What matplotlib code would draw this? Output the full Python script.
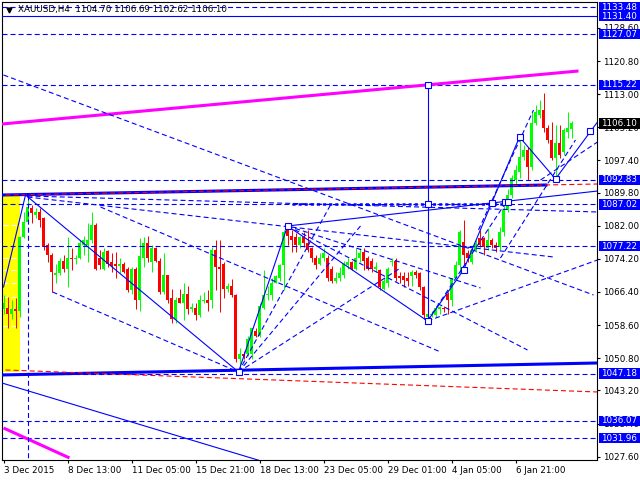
import matplotlib
matplotlib.use("Agg")
import matplotlib.pyplot as plt
import matplotlib.transforms as mtransforms
from matplotlib.patches import Rectangle

plt.rcParams['font.family'] = 'DejaVu Sans'
plt.rcParams['lines.scale_dashes'] = False

# XAUUSD H4 candles (bar 0 = 3 Dec 2015)
opens = [1062.5, 1062.7, 1061.3, 1062.5, 1062.0, 1079.3, 1082.8, 1086.1, 1084.5, 1085.2,
         1083.8, 1077.4, 1075.0, 1070.3, 1070.8, 1073.8, 1071.7, 1074.5, 1074.1, 1074.5,
         1077.4, 1077.4, 1078.6, 1082.1, 1074.3, 1071.9, 1076.0, 1073.4, 1072.9, 1072.4,
         1073.1, 1071.9, 1066.8, 1071.9, 1064.4, 1074.5, 1077.9, 1073.4, 1076.7, 1073.8,
         1066.3, 1070.3, 1064.9, 1060.1, 1064.9, 1063.7, 1066.0, 1062.5, 1062.7, 1060.9,
         1064.2, 1064.6, 1064.4, 1076.2, 1072.2, 1073.1, 1067.2, 1067.9, 1065.8, 1050.5,
         1051.9, 1051.7, 1051.9, 1057.3, 1056.1, 1062.7, 1065.6, 1065.6, 1068.6, 1069.8,
         1072.7, 1080.9, 1079.7, 1079.3, 1077.4, 1079.3, 1077.9, 1076.7, 1074.3, 1073.1,
         1074.3, 1074.5, 1071.9, 1069.1, 1069.6, 1070.3, 1072.7, 1073.4, 1071.9, 1074.3,
         1075.7, 1074.5, 1073.8, 1071.9, 1071.5, 1067.2, 1068.6, 1073.4, 1073.8, 1070.1,
         1070.1, 1069.8, 1070.1, 1071.2, 1070.8, 1067.5, 1060.4, 1060.9, 1060.9, 1062.5,
         1062.7, 1066.0, 1064.4, 1069.8, 1072.7, 1078.1, 1075.5, 1073.4, 1076.2, 1079.0,
         1079.0, 1076.7, 1078.6, 1077.4, 1076.9, 1080.5, 1085.6, 1089.2, 1092.7, 1094.6,
         1098.1, 1099.8, 1095.8, 1106.2, 1108.0, 1109.2, 1105.0, 1102.2, 1097.9, 1101.5,
         1099.3, 1104.0, 1104.70]
highs = [1065.6, 1065.1, 1064.4, 1064.9, 1079.7, 1085.2, 1089.0, 1086.8, 1086.1, 1086.1,
         1084.0, 1077.9, 1075.5, 1073.1, 1074.3, 1075.0, 1079.3, 1076.7, 1075.0, 1078.6,
         1079.7, 1082.6, 1085.2, 1082.6, 1076.2, 1076.7, 1076.2, 1075.5, 1075.7, 1074.5,
         1073.4, 1072.2, 1072.2, 1072.2, 1079.0, 1079.3, 1079.7, 1077.4, 1076.9, 1074.3,
         1075.5, 1070.5, 1067.2, 1065.1, 1067.2, 1068.4, 1067.9, 1063.9, 1063.7, 1065.6,
         1066.3, 1066.8, 1076.9, 1078.6, 1078.6, 1073.4, 1068.4, 1069.4, 1066.0, 1053.3,
         1052.6, 1056.1, 1058.0, 1058.0, 1063.7, 1071.5, 1067.9, 1069.6, 1070.3, 1072.9,
         1081.0, 1081.9, 1080.9, 1080.2, 1079.7, 1080.5, 1080.9, 1076.9, 1075.0, 1075.5,
         1076.7, 1075.0, 1072.4, 1071.0, 1072.2, 1073.6, 1074.5, 1073.8, 1076.7, 1076.7,
         1076.7, 1074.8, 1074.3, 1073.4, 1071.9, 1069.8, 1072.2, 1074.5, 1074.3, 1071.0,
         1071.0, 1071.0, 1071.5, 1071.5, 1071.0, 1067.9, 1061.6, 1062.0, 1062.9, 1063.2,
         1063.2, 1066.3, 1069.8, 1073.8, 1081.0, 1083.3, 1076.2, 1076.9, 1078.6, 1080.9,
         1079.3, 1081.4, 1079.0, 1078.1, 1081.6, 1086.8, 1090.6, 1093.9, 1096.3, 1102.9,
         1101.0, 1100.5, 1108.8, 1110.4, 1111.6, 1113.3, 1105.7, 1106.4, 1105.7, 1105.7,
         1105.0, 1108.8, 1106.69]
lows = [1061.3, 1058.0, 1060.1, 1058.0, 1060.4, 1079.0, 1082.6, 1082.6, 1083.8, 1081.6,
        1076.2, 1073.4, 1066.3, 1068.6, 1070.3, 1071.0, 1067.5, 1071.5, 1073.1, 1074.1,
        1075.0, 1073.4, 1077.9, 1071.5, 1071.9, 1071.5, 1072.2, 1071.0, 1069.6, 1070.8,
        1070.8, 1066.3, 1066.0, 1062.5, 1062.0, 1072.2, 1073.4, 1071.0, 1073.4, 1066.0,
        1066.0, 1063.9, 1059.0, 1059.2, 1063.7, 1059.7, 1061.3, 1061.6, 1059.7, 1060.4,
        1063.9, 1062.0, 1062.7, 1066.8, 1061.6, 1064.9, 1066.3, 1065.1, 1049.8, 1047.9,
        1050.7, 1051.2, 1050.7, 1055.7, 1055.7, 1062.5, 1064.4, 1064.4, 1068.4, 1069.1,
        1066.8, 1077.4, 1075.7, 1075.7, 1076.7, 1076.9, 1075.7, 1073.4, 1071.9, 1072.7,
        1073.8, 1069.1, 1068.6, 1068.4, 1069.1, 1069.8, 1071.9, 1071.5, 1071.5, 1073.4,
        1071.5, 1071.5, 1071.0, 1071.0, 1066.8, 1066.8, 1067.5, 1072.4, 1069.1, 1068.6,
        1067.5, 1067.9, 1067.9, 1069.8, 1066.8, 1060.1, 1059.4, 1060.4, 1060.4, 1061.3,
        1061.6, 1061.3, 1063.2, 1069.6, 1070.8, 1072.7, 1073.4, 1073.1, 1075.7, 1076.9,
        1075.0, 1076.2, 1076.7, 1075.7, 1076.4, 1079.7, 1085.2, 1088.5, 1091.5, 1093.2,
        1097.4, 1092.7, 1095.1, 1105.7, 1107.3, 1104.0, 1101.5, 1097.4, 1093.2, 1097.9,
        1098.6, 1102.6, 1102.62]
closes = [1063.7, 1061.3, 1062.5, 1061.8, 1079.3, 1082.8, 1086.3, 1084.9, 1085.2, 1083.3,
          1076.9, 1075.0, 1071.0, 1070.8, 1073.8, 1071.7, 1074.5, 1074.1, 1074.5, 1077.9,
          1078.6, 1078.6, 1082.1, 1071.9, 1072.7, 1075.7, 1073.1, 1072.4, 1072.4, 1073.1,
          1071.0, 1066.8, 1071.9, 1064.4, 1074.8, 1077.9, 1074.3, 1076.7, 1073.6, 1066.3,
          1070.3, 1064.4, 1060.1, 1064.6, 1063.9, 1066.0, 1062.5, 1062.7, 1060.9, 1064.4,
          1064.6, 1063.9, 1076.2, 1072.2, 1071.9, 1067.2, 1067.9, 1065.6, 1050.5, 1051.7,
          1051.2, 1055.4, 1057.8, 1056.1, 1063.2, 1065.6, 1066.0, 1068.6, 1070.1, 1072.7,
          1080.5, 1079.7, 1078.6, 1077.4, 1079.3, 1077.9, 1076.2, 1074.3, 1072.7, 1074.3,
          1075.5, 1069.8, 1069.1, 1069.8, 1070.8, 1073.1, 1073.4, 1071.9, 1074.5, 1075.5,
          1073.8, 1071.9, 1071.9, 1072.2, 1067.5, 1069.1, 1071.9, 1073.8, 1069.6, 1069.6,
          1069.3, 1068.9, 1071.0, 1070.3, 1067.5, 1060.9, 1061.1, 1061.3, 1062.7, 1062.7,
          1062.3, 1064.4, 1069.6, 1072.7, 1080.5, 1075.0, 1074.5, 1076.2, 1077.9, 1077.4,
          1076.9, 1078.6, 1077.4, 1076.7, 1080.5, 1085.6, 1089.2, 1093.2, 1095.1, 1098.1,
          1099.8, 1095.8, 1106.2, 1108.8, 1109.2, 1105.0, 1102.2, 1097.9, 1101.5, 1098.6,
          1104.5, 1105.0, 1106.10]

time_ticks = [0, 16, 32, 48, 64, 80, 96, 112, 128]
time_labels = ["3 Dec 2015", "8 Dec 13:00", "11 Dec 05:00", "15 Dec 21:00", "18 Dec 13:00",
               "23 Dec 05:00", "29 Dec 01:00", "4 Jan 05:00", "6 Jan 21:00"]
price_ticks = [1128.60, 1120.80, 1113.00, 1105.20, 1097.40, 1089.80, 1082.00, 1074.20,
               1066.40, 1058.60, 1050.80, 1043.20, 1035.40, 1027.60]

# horizontal levels
dashed_levels = [1133.48, 1127.07, 1115.22, 1092.83, 1087.02, 1077.22, 1047.18, 1036.07, 1031.96]
solid_levels = [1131.40]
last_price = 1106.10

# trend lines: (bar0, price0, bar1, price1)
thick_blue = [(-0.4, 1089.24, 136, 1091.60), (-0.4, 1046.85, 148.5, 1049.67)]
magenta = [(-0.4, 1105.96, 143.75, 1118.45), (0, 1034.36, 16.5, 1027.30)]
red_dashed = [(0.5, 1089.24, 148.5, 1091.83), (0.5, 1048.02, 148.5, 1042.84)]
solid_thin = [(0, 1067.57, 5.5, 1089.24), (5.5, 1089.24, 58.75, 1047.55),
              (58.75, 1047.55, 71, 1081.94), (71, 1081.94, 106, 1059.57),
              (106, 1059.57, 115, 1071.58), (115, 1071.58, 129, 1102.9),
              (129, 1102.9, 138, 1093.01), (138, 1093.01, 148.5, 1106.44),
              (71, 1081.94, 148.5, 1090.18), (106, 1115.22, 106, 1059.57),
              (-0.4, 1044.96, 64, 1026.7)]
dashed_thin = [(0, 1117.51, 147.5, 1065.69), (6, 1088.77, 137.5, 1074.64),
               (6, 1089.0, 148.5, 1085.24), (12.25, 1066.40, 58.75, 1047.55),
               (24.25, 1086.41, 109.25, 1052.27), (71, 1081.94, 131, 1052.73),
               (71, 1081.94, 119.25, 1067.34), (58.75, 1047.55, 81.75, 1086.89),
               (58.75, 1047.55, 89.25, 1081.94), (58.75, 1047.55, 99.25, 1072.05),
               (106, 1059.57, 126, 1088.06), (106, 1059.57, 148.5, 1073.93),
               (118.75, 1081.0, 132.5, 1109.26), (124.25, 1074.40, 143, 1102.20),
               (134.25, 1092.77, 148.5, 1101.72), (6, 1089.2, 6, 1020.0)]
marker_bars = [71, 58.75, 106, 106, 106, 115, 129, 138, 146.5, 122.2, 125.25, 126.1]
marker_prices = [1081.94, 1047.55, 1059.57, 1087.02, 1115.22, 1071.58, 1102.9, 1093.01,
                 1104.32, 1087.36, 1087.5, 1087.5]
yellow_box = (-0.2, 4.0, 1047.55, 1089.24)
yellow_marks = [1082.1, 1074.3, 1071.5, 1068.4, 1065.1, 1062.5, 1058.5]

BLUE = '#0000ff'
dash = (0, (3.6, 2.2))

fig = plt.figure(figsize=(6.4, 4.8), dpi=100)
ax = fig.add_axes([2 / 640, 20 / 480, 595 / 640, 458 / 480])
# 4 px per bar, bar centres on pixel centres
ax.set_xlim(-0.375, 148.375)
ax.set_ylim(1026.82, 1134.70)

# yellow rectangle
x0, x1, y0, y1 = yellow_box
ax.add_patch(Rectangle((x0, y0), x1 - x0, y1 - y0, fc='#ffff00', ec='none', zorder=0))
for p in yellow_marks:
    ax.plot([x0, x1], [p, p], color='white', lw=0.8, ls=dash, zorder=0.5)

# candles
for i in range(len(opens)):
    o, h, l, c = opens[i], highs[i], lows[i], closes[i]
    col = '#00ff00' if c >= o else '#ff0000'
    ax.vlines(i, l, h, color=col, lw=0.72, zorder=2)
    ax.bar(i, max(abs(c - o), 0.3), bottom=min(o, c), width=0.75, color=col,
           lw=0, zorder=2, antialiased=False)

# levels
for p in dashed_levels:
    ax.axhline(p, color=BLUE, lw=0.8, ls=dash, zorder=3)
for p in solid_levels:
    ax.axhline(p, color=BLUE, lw=0.8, zorder=3)
ax.plot([72, 126], [1087.02, 1087.02], color=BLUE, lw=1.8, ls=(0, (2.2, 2.2)), zorder=3)

for a, b, c, d in thick_blue:
    ax.plot([a, c], [b, d], color=BLUE, lw=2.2, zorder=3, solid_capstyle='butt')
for a, b, c, d in magenta:
    ax.plot([a, c], [b, d], color='#ff00ff', lw=2.2, zorder=3, solid_capstyle='butt')
for a, b, c, d in red_dashed:
    ax.plot([a, c], [b, d], color='#ff0000', lw=0.8, ls=dash, zorder=3)
for a, b, c, d in solid_thin:
    ax.plot([a, c], [b, d], color=BLUE, lw=0.8, zorder=3)
for a, b, c, d in dashed_thin:
    ax.plot([a, c], [b, d], color=BLUE, lw=0.8, ls=dash, zorder=3)
ax.plot(marker_bars, marker_prices, ls='none', marker='s', ms=4.2, mfc='white',
        mec=BLUE, mew=0.8, zorder=4)

# axes styling
for s in ax.spines.values():
    s.set_linewidth(0.8)
    s.set_color('black')
ax.yaxis.tick_right()
ax.set_yticks(price_ticks)
ax.set_yticklabels([f"{v:.2f}" for v in price_ticks])
ax.set_xticks(time_ticks)
ax.set_xticklabels(time_labels, ha='left')
ax.tick_params(axis='both', length=2.5, width=0.8, labelsize=6.3, pad=2, colors='black')

# price boxes on the right
trans = mtransforms.blended_transform_factory(ax.transAxes, ax.transData)
box_levels = dashed_levels + solid_levels
for p in box_levels:
    ax.add_patch(Rectangle((1.0034, p - 1.2), 0.0689, 2.4, transform=trans, fc=BLUE,
                           ec='none', clip_on=False, zorder=5))
    ax.text(1.0075, p, f"{p:.2f}", transform=trans, color='white', fontsize=6.3,
            va='center', ha='left', clip_on=False, zorder=6)
ax.add_patch(Rectangle((1.0034, last_price - 1.2), 0.0689, 2.4, transform=trans,
                       fc='black', ec='none', clip_on=False, zorder=5))
ax.text(1.0075, last_price, f"{last_price:.2f}", transform=trans, color='white',
        fontsize=6.3, va='center', ha='left', clip_on=False, zorder=6)

# header
ax.plot([0.0115], [0.983], marker='v', ms=3.5, color='black', transform=ax.transAxes, zorder=6)
ax.text(0.027, 0.983, "XAUUSD,H4  %.2f %.2f %.2f %.2f" % (opens[-1], highs[-1], lows[-1], closes[-1]),
        transform=ax.transAxes, fontsize=6.3, va='center', ha='left', zorder=6)

fig.savefig("out.png", dpi=100)
